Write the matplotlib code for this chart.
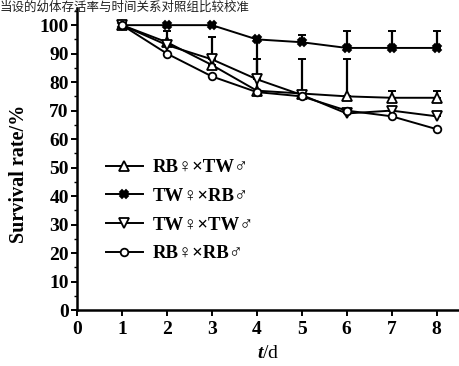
import matplotlib
matplotlib.use('Agg')
import matplotlib.pyplot as plt
from matplotlib.ticker import MultipleLocator

# 数据
days = [1, 2, 3, 4, 5, 6, 7, 8]
rb_tw = [100, 94, 86, 77, 76, 75, 74.5, 74.5]      # RB♀×TW♂
tw_rb = [100, 100, 100, 95, 94, 92, 92, 92]        # TW♀×RB♂
tw_tw = [100, 93, 88, 81, 75.5, 69, 70, 68]        # TW♀×TW♂
rb_rb = [100, 90, 82, 76.5, 75, 70, 68, 63.5]      # RB♀×RB♂

rb_tw_err = [0, 0, 0, 11, 12, 13, 2.5, 2.5]
tw_rb_err = [0, 0, 0, 0, 2.5, 6, 6, 6]
tw_tw_err = [0, 5, 8, 14, 0, 0, 0, 0]
rb_rb_err = [0, 0, 0, 0, 0, 0, 0, 0]

labels = ['RB\u2640\u00d7TW\u2642', 'TW\u2640\u00d7RB\u2642',
          'TW\u2640\u00d7TW\u2642', 'RB\u2640\u00d7RB\u2642']

caption = '当设的幼体存活率与时间关系对照组比较校准'

serif = ['Liberation Serif', 'DejaVu Serif', 'DejaVu Sans']
plt.rcParams['font.family'] = serif
plt.rcParams['mathtext.fontset'] = 'custom'
plt.rcParams['mathtext.it'] = 'Liberation Serif:italic:bold'

fig = plt.figure(figsize=(4.59, 3.66), dpi=100)
ax = fig.add_axes([0.168, 0.153, 0.832, 0.825])

series = [
    (rb_tw, rb_tw_err, '^', 'white', 6.5),
    (tw_rb, tw_rb_err, 'X', 'black', 5.5),
    (tw_tw, tw_tw_err, 'v', 'white', 6.5),
    (rb_rb, rb_rb_err, 'o', 'white', 5.5),
]
for (vals, err, mk, fc, ms), lab in zip(series, labels):
    # 单侧误差线（只向上）
    ax.errorbar(days, vals, yerr=[[0] * len(err), err], fmt='none',
                ecolor='black', capsize=3, capthick=1.4, elinewidth=1.6)
    ax.plot(days, vals, color='black', lw=1.4, marker=mk, mfc=fc,
            mec='black', mew=1.3, ms=ms, label=lab)

ax.set_xlim(0, 8.5)
ax.set_ylim(0, 106)
ax.set_xticks(range(0, 9))
ax.set_yticks(range(0, 101, 10))
ax.yaxis.set_minor_locator(MultipleLocator(5))
ax.spines['top'].set_visible(False)
ax.spines['right'].set_visible(False)
ax.spines['left'].set_linewidth(1.8)
ax.spines['bottom'].set_linewidth(1.8)
ax.tick_params(axis='both', direction='out', width=1.4, length=4,
               labelsize=14, pad=2)
ax.tick_params(axis='x', pad=4)
ax.tick_params(axis='y', which='minor', length=2, width=1)
for t in ax.get_xticklabels() + ax.get_yticklabels():
    t.set_fontweight('bold')

ax.set_ylabel('Survival rate/%', fontsize=14.5, fontweight='bold')
ax.yaxis.set_label_coords(-0.125, 0.45)
ax.set_xlabel('$t$/d', fontsize=14, labelpad=5)

leg = ax.legend(loc='upper left', bbox_to_anchor=(0.055, 0.525), frameon=False,
                prop={'size': 13.5, 'weight': 'bold'}, handlelength=2.0,
                handletextpad=0.5, labelspacing=0.62, borderaxespad=0)

# 顶部图题
fig.text(0.0, 0.999, caption, family=['Noto Sans CJK SC', 'DejaVu Sans'],
         fontsize=9, ha='left', va='top', color='#222222')

fig.savefig('out.png', dpi=100)
